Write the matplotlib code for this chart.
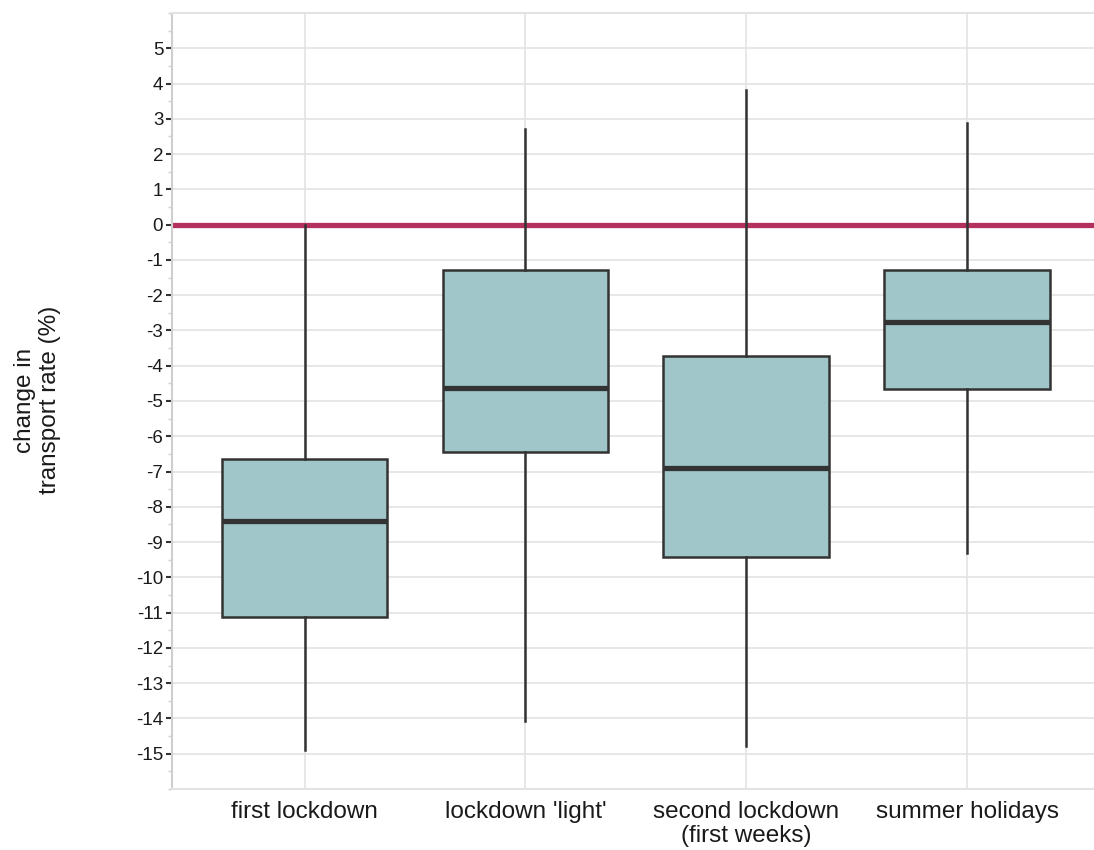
import numpy as np
import matplotlib.pyplot as plt
from matplotlib.ticker import MultipleLocator

# box statistics (change in transport rate, %)
categories = ['first lockdown', "lockdown 'light'", 'second lockdown\n(first weeks)', 'summer holidays']
whisker_high = [0.0, 2.72, 3.82, 2.88]
q3 = [-6.64, -1.30, -3.73, -1.30]
medians = [-8.39, -4.63, -6.89, -2.77]
q1 = [-11.13, -6.44, -9.41, -4.66]
whisker_low = [-14.89, -14.07, -14.77, -9.32]
reference_level = 0.0

plt.rcParams['font.family'] = ['Liberation Sans', 'DejaVu Sans']

fig = plt.figure(figsize=(10.94, 8.5), dpi=100)
ax = fig.add_axes([0.1572, 0.0718, 0.848, 0.9129])

grid_col = '#e3e3e3'
edge_col = '#333333'
fill_col = '#a0c6ca'

ax.set_ylim(-16, 6)
ax.set_xlim(-0.6, 3.6)
ax.yaxis.set_minor_locator(MultipleLocator(0.5))
ax.set_yticks(np.arange(-15, 6))
ax.set_yticklabels([str(v) for v in range(-15, 6)])
ax.grid(axis='y', which='major', color=grid_col, lw=1.2, zorder=0)
ax.set_xticks(range(len(categories)))
ax.set_xticklabels(categories)
ax.grid(axis='x', which='major', color=grid_col, lw=1.2, zorder=0)
ax.set_axisbelow(True)

ax.axhline(reference_level, color='#b3305f', lw=3.8, zorder=1)

stats = []
for i, name in enumerate(categories):
    stats.append(dict(label=name, med=medians[i], q1=q1[i], q3=q3[i],
                      whislo=whisker_low[i], whishi=whisker_high[i], fliers=[]))

ax.bxp(stats, positions=range(len(categories)), widths=0.75, patch_artist=True,
       showcaps=False, showfliers=False,
       boxprops=dict(facecolor=fill_col, edgecolor=edge_col, linewidth=1.8),
       medianprops=dict(color=edge_col, linewidth=3.8, solid_capstyle='butt'),
       whiskerprops=dict(color=edge_col, linewidth=1.8),
       manage_ticks=False, zorder=2)

for side in ['top', 'bottom', 'left']:
    ax.spines[side].set_color(grid_col)
    ax.spines[side].set_linewidth(1.5)
ax.spines['right'].set_visible(False)
ax.spines['left'].set_color('#cfcfcf')

ax.tick_params(axis='y', which='major', length=4.3, width=1.5, color=edge_col,
               labelsize=13.5, labelcolor='#1a1a1a', pad=2)
ax.tick_params(axis='y', which='minor', length=3, width=1, color='#cfcfcf')
ax.tick_params(axis='x', which='major', length=0, labelsize=17.5, labelcolor='#1a1a1a', pad=9)
ax.tick_params(axis='x', which='minor', length=0)
for lbl in ax.get_xticklabels():
    lbl.set_linespacing(1.1)

fig.text(0.0345, 0.529, 'change in\ntransport rate (%)', rotation=90,
         ha='center', va='center', fontsize=17.5, color='#1a1a1a', linespacing=1.15)

fig.savefig('out.png', dpi=100)
